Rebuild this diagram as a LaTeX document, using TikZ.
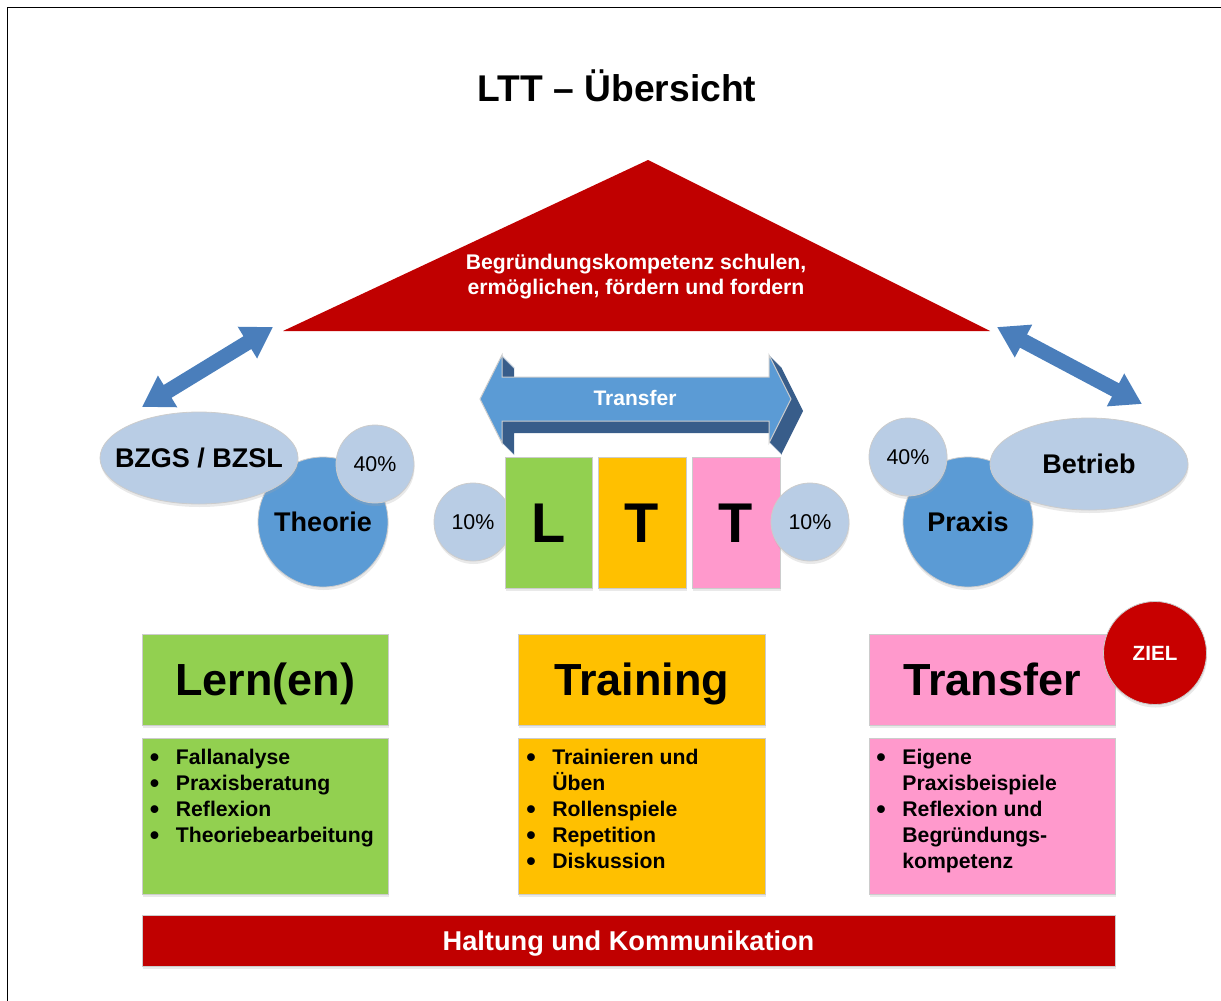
\documentclass[tikz,border=0pt]{standalone}
\usepackage{fontspec}
\setmainfont{Liberation Sans}
\usetikzlibrary{arrows.meta,shapes.geometric,shadows}
\definecolor{dred}{HTML}{C00000}
\definecolor{zred}{HTML}{C80000}
\definecolor{cblue}{HTML}{5B9BD5}
\definecolor{lblue}{HTML}{B9CDE5}
\definecolor{ablue}{HTML}{4A7EBB}
\definecolor{tdark}{HTML}{385D8A}
\definecolor{lgreen}{HTML}{92D050}
\definecolor{lorange}{HTML}{FFC000}
\definecolor{lpink}{HTML}{FF99CC}
\newcommand{\bul}{\makebox[13pt][l]{\raisebox{-0.9pt}{\fontsize{13.5}{13}\selectfont\textbullet}}}
\newcommand{\ind}{\hspace*{13pt}}
\begin{document}
\begin{tikzpicture}[x=0.5pt,y=-0.5pt,
  shd/.style={drop shadow={shadow xshift=0.3pt,shadow yshift=-1.5pt,opacity=0.25,fill=black!35}},
  plate/.style={rectangle,draw=black!20,line width=0.5pt,inner sep=0pt,shd},
  ring/.style={circle,draw=black!20,line width=0.4pt,inner sep=0pt,shd},
  oval/.style={ellipse,draw=black!20,line width=0.4pt,inner sep=0pt,fill=lblue,minimum width=99pt,minimum height=46pt,shd},
  bigb/.style={font=\fontsize{13.5}{16}\selectfont\bfseries,text height=9.67pt,text depth=0pt},
  pct/.style={font=\fontsize{10.7}{13}\selectfont,text height=7.66pt,text depth=0pt},
  letter/.style={font=\fontsize{28}{32}\selectfont\bfseries,text height=20pt,text depth=0pt},
  head/.style={font=\fontsize{22.5}{26}\selectfont\bfseries,text height=16.1pt,text depth=0pt},
  listtxt/.style={font=\fontsize{10.6}{13}\selectfont\bfseries,align=left,anchor=north west,inner sep=0pt},
  dblarrow/.style={ablue,line width=7.5pt,{Triangle[width=17.5pt,length=15pt]}-{Triangle[width=17.5pt,length=15pt]}},
]
\useasboundingbox (0,0) rectangle (1221,1001);
% page frame (top and left edges)
\draw[line width=0.9pt] (7.5,1001) -- (7.5,7.5) -- (1221,7.5);

% title
\node[font=\fontsize{18.6}{22}\selectfont\bfseries,anchor=base,inner sep=0pt] (title) at (617,101) {LTT – Übersicht};

% roof
\coordinate (triL) at (283,331);
\coordinate (triT) at (648,160);
\coordinate (triR) at (990,331);
\fill[dred] (triL) -- (triT) -- (triR) -- cycle;
\node[font=\fontsize{10.6}{12.5}\selectfont\bfseries,text=white,align=center,anchor=north,inner sep=0pt] (roof) at (636,253.5)
  {Begründungskompetenz schulen,\\ermöglichen, fördern und fordern};

% diagonal double arrows
\coordinate (aL1) at (273,327);
\coordinate (aL2) at (142,407);
\coordinate (aR1) at (997,327);
\coordinate (aR2) at (1142,404);
\draw[dblarrow] (aL2) -- (aL1);
\draw[dblarrow] (aR1) -- (aR2);

% left group
\node[ring,fill=cblue,minimum size=65pt,bigb] (theorie) at (323,522) {Theorie};
\node[oval] (bz) at (199,458) {};
\node[bigb] (bztxt) at (bz.center) {BZGS / BZSL};
\node[ring,fill=lblue,minimum size=39pt,pct] (p40l) at (375,464) {40\%};

% right group
\node[ring,fill=cblue,minimum size=65pt,bigb] (praxis) at (968,522) {Praxis};
\node[ring,fill=lblue,minimum size=39pt,pct] (p40r) at (908,457) {40\%};
\node[oval] (betrieb) at (1089,464) {};
\node[bigb] (betriebtxt) at (betrieb.center) {Betrieb};

% LTT blocks
\node[ring,fill=lblue,minimum size=39pt,pct] (p10l) at (473,522) {10\%};
\node[plate,fill=lgreen,minimum width=43.5pt,minimum height=65.5pt,letter] (bL) at (548.5,522.5) {L};
\node[plate,fill=lorange,minimum width=44pt,minimum height=65.5pt,letter] (bT1) at (642,522.5) {T};
\node[plate,fill=lpink,minimum width=44pt,minimum height=65.5pt,letter] (bT2) at (736,522.5) {T};
\node[ring,fill=lblue,minimum size=39pt,pct] (p10r) at (810,522) {10\%};

% transfer arrow (3D)
\def\tarrow{(480,399) -- (502,355) -- (502,377) -- (769,377) -- (769,355) -- (791,399) -- (769,443) -- (769,421) -- (502,421) -- (502,443) -- cycle}
\foreach \t in {1,2,...,12} {\fill[tdark,shift={(\t,\t)}] \tarrow;}
\filldraw[fill=cblue,draw=white!80!black,line width=0.5pt] \tarrow;
\node[font=\fontsize{10.5}{12}\selectfont\bfseries,text=white,text height=7.52pt,text depth=0pt] (transfertxt) at (635,398) {Transfer};

% headers
\node[plate,fill=lgreen,minimum width=123pt,minimum height=45.5pt,head] (hL) at (265,679.5) {Lern(en)};
\node[plate,fill=lorange,minimum width=123.5pt,minimum height=45.5pt,head] (hT) at (641.5,679.5) {Training};
\node[plate,fill=lpink,minimum width=123pt,minimum height=45.5pt,head] (hX) at (992,679.5) {Transfer};
\node[ring,fill=zred,minimum size=51.5pt,font=\fontsize{10.3}{12}\selectfont\bfseries,text=white,text height=7.37pt,text depth=0pt] (ziel) at (1155,653) {ZIEL};

% content boxes
\node[plate,fill=lgreen,minimum width=123pt,minimum height=78pt] (cL) at (265,816) {};
\node[plate,fill=lorange,minimum width=123.5pt,minimum height=78pt] (cT) at (641.5,816) {};
\node[plate,fill=lpink,minimum width=123pt,minimum height=78pt] (cX) at (992,816) {};
\node[listtxt] (listL) at (149.5,749) {\bul Fallanalyse\\\bul Praxisberatung\\\bul Reflexion\\\bul Theoriebearbeitung};
\node[listtxt] (listT) at (526,749) {\bul Trainieren und\\\ind Üben\\\bul Rollenspiele\\\bul Repetition\\\bul Diskussion};
\node[listtxt] (listX) at (876,749) {\bul Eigene\\\ind Praxisbeispiele\\\bul Reflexion und\\\ind Begründungs-\\\ind kompetenz};

% base bar
\node[plate,fill=dred,minimum width=486.5pt,minimum height=25.5pt,font=\fontsize{13.6}{16}\selectfont\bfseries,text=white,text height=9.74pt,text depth=0pt] (haltung) at (628.5,940.5) {Haltung und Kommunikation};
\end{tikzpicture}
\end{document}
